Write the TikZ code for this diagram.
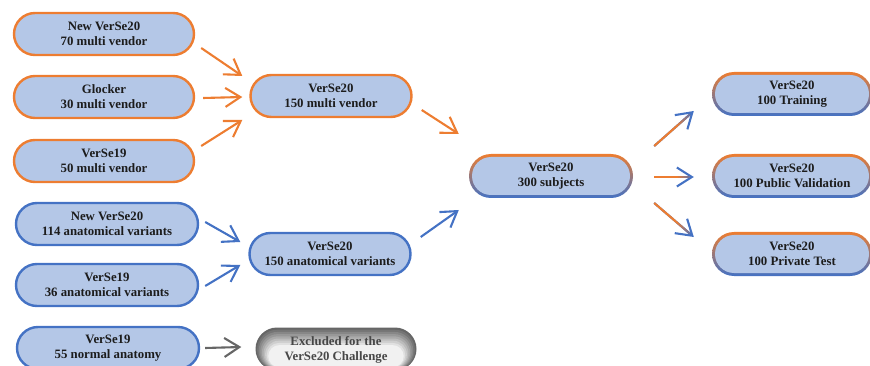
\documentclass[tikz,border=0pt]{standalone}
\usepackage{fontspec}
\setmainfont{Liberation Serif}
\usetikzlibrary{shapes.misc,arrows.meta,calc}
\definecolor{orng}{HTML}{ED7D31}
\definecolor{blu}{HTML}{4472C4}
\definecolor{pillfill}{HTML}{B4C7E7}
\definecolor{greyedge}{HTML}{666666}
\definecolor{txt}{HTML}{1C1C1C}

\begin{document}
\begin{tikzpicture}[x=1pt,y=-1pt,
  pill/.style={rounded rectangle, minimum height=42pt, inner sep=0pt,
    align=center, text=txt, font=\bfseries\fontsize{12.8}{15}\selectfont,
    line width=2.4pt, fill=pillfill},
  opill/.style={pill, draw=orng},
  bpill/.style={pill, draw=blu},
  % two-tone border: shaded outer pill with a plain inner pill on top
  rimpill/.style={rounded rectangle, minimum height=44pt, inner sep=0pt,
    draw=none, top color=orng, bottom color=blu},
  innerpill/.style={pill, draw=none, minimum height=38pt},
  % grey pill with a soft inner shadow built from stacked layers
  greylayer/.style={rounded rectangle, inner sep=0pt, draw=none},
  greytext/.style={pill, fill=none, draw=none, text=black!72},
  arr/.style={-{Straight Barb[length=15pt,width=19pt]}, line width=2.1pt},
  oarr/.style={arr, draw=orng},
  barr/.style={arr, draw=blu},
  garr/.style={arr, draw=greyedge},
]
\useasboundingbox (0,0) rectangle (870,366);

% left column: sources
\node[opill, minimum width=180pt] (nv70)  at (104,34)  {New VerSe20\\70 multi vendor};
\node[opill, minimum width=180pt] (glk)   at (104,97)  {Glocker\\30 multi vendor};
\node[opill, minimum width=180pt] (v19mv) at (104,161) {VerSe19\\50 multi vendor};
\node[bpill, minimum width=182pt] (nv114) at (107,224) {New VerSe20\\114 anatomical variants};
\node[bpill, minimum width=182pt] (v19av) at (107,285) {VerSe19\\36 anatomical variants};
\node[bpill, minimum width=182pt] (v19n)  at (108,348) {VerSe19\\55 normal anatomy};

% middle column: merged subsets
\node[opill, minimum width=161pt] (mv150) at (331,96)  {VerSe20\\150 multi vendor};
\node[bpill, minimum width=161pt] (av150) at (330,254) {VerSe20\\150 anatomical variants};

% excluded cases
\node[greylayer, minimum width=161pt, minimum height=43pt, fill=greyedge] (excl) at (336,349) {};
\foreach \i in {1,...,8}{
  \pgfmathsetmacro{\w}{161-3.2*\i}
  \pgfmathsetmacro{\h}{43-2.6*\i}
  \pgfmathtruncatemacro{\mix}{100-12*\i}
  \node[greylayer, minimum width=\w pt, minimum height=\h pt,
        fill=greyedge!\mix!white!97!black] (exclL\i) at ($(excl)+(0,0.9*\i)$) {};
}
\node[greytext, minimum width=160pt] (excltxt) at ($(excl)+(0,1)$) {Excluded for the\\VerSe20 Challenge};

% full data set
\node[rimpill, minimum width=164pt] (all) at (551,176) {};
\node[innerpill, minimum width=158pt] (alltxt) at (all) {VerSe20\\300 subjects};

% splits
\node[rimpill, minimum width=160pt] (trn) at (792,94) {};
\node[innerpill, minimum width=154pt] (trntxt) at (trn) {VerSe20\\100 Training};
\node[rimpill, minimum width=160pt] (pv) at (792,176) {};
\node[innerpill, minimum width=154pt] (pvtxt) at (pv) {VerSe20\\100 Public Validation};
\node[rimpill, minimum width=160pt] (pt) at (792,254) {};
\node[innerpill, minimum width=154pt] (pttxt) at (pt) {VerSe20\\100 Private Test};

% connectors into the middle column
\draw[oarr] ([shift={(6,14)}]nv70.east)  -- ([shift={(-7,-20)}]mv150.west);
\draw[oarr] ([shift={(8,1)}]glk.east)    -- ([shift={(-7,1)}]mv150.west);
\draw[oarr] ([shift={(6,-15)}]v19mv.east) -- ([shift={(-7,24)}]mv150.west);
\draw[barr] ([shift={(6,-2)}]nv114.east) -- ([shift={(-8,-12)}]av150.west);
\draw[barr] ([shift={(6,1)}]v19av.east)  -- ([shift={(-8,11)}]av150.west);
\draw[garr] ([shift={(5,0)}]v19n.east)   -- ([shift={(-14,-2)}]excl.west);

% connectors into the full set
\draw[oarr] ([shift={(9,14)}]mv150.east) -- ([shift={(-10,-42)}]all.west);
\draw[barr] ([shift={(9,-17)}]av150.east) -- ([shift={(-10,34)}]all.west);

% split connectors, orange fading into blue
\foreach \sa/\ta/\sb/\tb in {all.east/trn.west/{(21,-30)}/{(-18,17)},
                             all.east/pv.west/{(21,1)}/{(-18,1)},
                             all.east/pt.west/{(21,27)}/{(-18,-17)}}{
  \coordinate (p0) at ([shift={\sb}]\sa);
  \coordinate (p1) at ([shift={\tb}]\ta);
  \draw[barr] (p0) -- (p1);
  \draw[line width=2.1pt, orng] (p0) -- ($(p0)!0.55!(p1)$);
  \foreach \k [evaluate=\k as \pc using int(\k*12)] in {0,...,6}{
    \draw[line width=2.1pt, blu!\pc!orng]
      ($(p0)!{0.55+\k*0.05}!(p1)$) -- ($(p0)!{0.6+\k*0.05}!(p1)$);
  }
}
\end{tikzpicture}
\end{document}
